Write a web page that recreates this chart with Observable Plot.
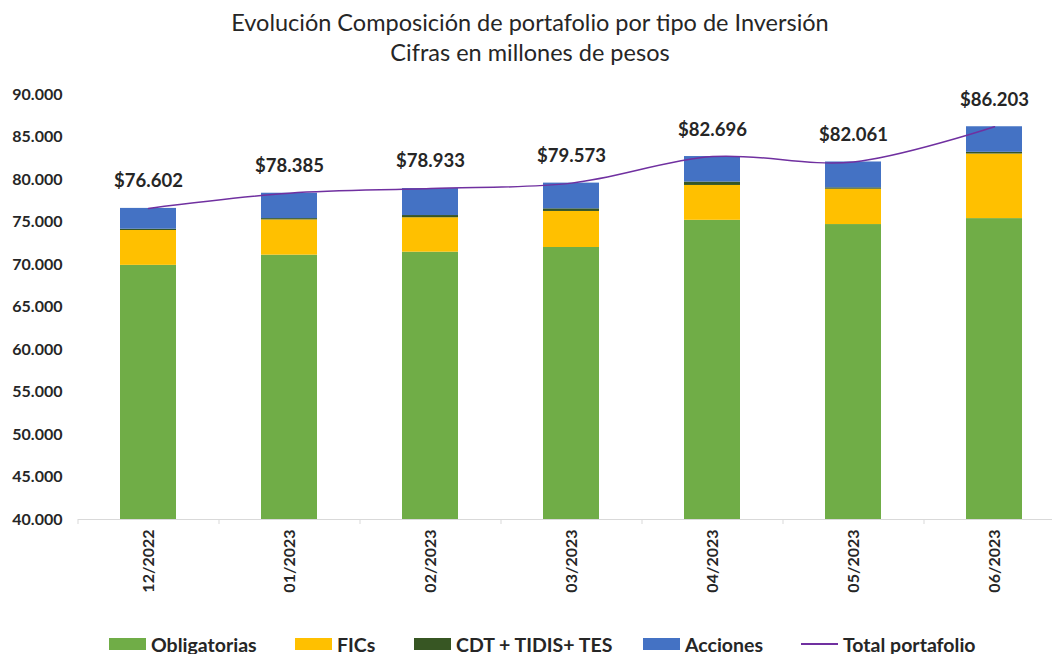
<!DOCTYPE html>
<html>
<head>
<meta charset="utf-8">
<script src="https://cdn.jsdelivr.net/npm/d3@7"></script>
<script src="https://cdn.jsdelivr.net/npm/@observablehq/plot@0.6"></script>
<style>
  html, body { margin: 0; padding: 0; background: #fff; }
  body { width: 1052px; height: 654px; position: relative; overflow: hidden; font-family: Lato, "Open Sans", sans-serif; color: #262626; }
  #title { position: absolute; left: 0; top: 7px; width: 1060px; text-align: center; font-size: 23.5px; line-height: 30px; color: #262626; }
  #chart { position: absolute; left: 0; top: 76px; }
  #legend { position: absolute; left: 0; top: 633px; width: 1052px; height: 22px; font-size: 19.5px; font-weight: bold; color: #262626; }
  .item { position: absolute; top: 0; display: flex; align-items: center; gap: 5px; height: 22px; white-space: nowrap; }
  .sw { width: 37px; height: 12px; }
  .ln { width: 37px; height: 2px; }
</style>
</head>
<body>
<div id="title">Evolución Composición de portafolio por tipo de Inversión<br>Cifras en millones de pesos</div>
<div id="chart"></div>
<div id="legend"></div>
<script>
const categories = ["12/2022", "01/2023", "02/2023", "03/2023", "04/2023", "05/2023", "06/2023"];
const seriesNames = ["Obligatorias", "FICs", "CDT + TIDIS+ TES", "Acciones"];
const seriesColors = ["#70AD47", "#FFC000", "#375623", "#4472C4"];
const obligatorias = [69900, 71100, 71450, 72000, 75200, 74700, 75400];
const fics = [4100, 4150, 4050, 4240, 4100, 4160, 7600];
const cdtTidisTes = [150, 150, 260, 310, 400, 160, 200];
const acciones = [2450, 2985, 3175, 3025, 3000, 3040, 3005];
const totalPortafolio = [76602, 78385, 78933, 79573, 82696, 82061, 86203];
const totalName = "Total portafolio";
const totalColor = "#7030A0";
const yTicks = [40000, 45000, 50000, 55000, 60000, 65000, 70000, 75000, 80000, 85000, 90000];

const locale = d3.formatLocale({decimal: ",", thousands: ".", grouping: [3], currency: ["$", ""]});
const fmtNum = locale.format(",");
const fmtMoney = locale.format("$,");

const seriesValues = [obligatorias, fics, cdtTidisTes, acciones];
const rows = categories.flatMap((c, i) => seriesNames.map((s, j) => ({cat: c, serie: s, value: seriesValues[j][i]})));
const totals = categories.map((c, i) => ({cat: c, total: totalPortafolio[i]}));

const plot = Plot.plot({
  width: 1052,
  height: 545,
  marginLeft: 78,
  marginRight: 0,
  marginTop: 18,
  marginBottom: 102,
  style: {fontFamily: "Lato, 'Open Sans', sans-serif", color: "#262626", background: "#fff"},
  x: {domain: categories, range: [78, 1065], paddingInner: 0.6, paddingOuter: 0.3, axis: null, label: null},
  y: {domain: [40000, 90000], axis: null, label: null},
  color: {domain: seriesNames, range: seriesColors},
  marks: [
    Plot.barY(rows, {x: "cat", y: "value", fill: "serie", order: seriesNames, clip: true}),
    Plot.ruleY([40000], {stroke: "#d9d9d9", strokeWidth: 1}),
    Plot.axisX({ticks: categories.slice(0, -1), tickSize: 5, tickFormat: () => "", label: null, dx: 70.5, stroke: "#d9d9d9"}),
    Plot.axisX({ticks: [categories[0]], tickSize: 5, tickFormat: () => "", label: null, dx: -70.5, stroke: "#d9d9d9"}),
    Plot.axisX({tickRotate: -90, tickSize: 0, tickPadding: 10, label: null, fontWeight: "bold", fontSize: 16, fill: "#262626"}),
    Plot.axisY({ticks: yTicks, tickFormat: fmtNum, tickSize: 0, tickPadding: 16, label: null, fontWeight: "bold", fontSize: 16, fill: "#262626"}),
    Plot.line(totals, {x: "cat", y: "total", stroke: totalColor, strokeWidth: 1.5, curve: "catmull-rom"}),
    Plot.text(totals, {x: "cat", y: "total", text: d => fmtMoney(d.total), dy: -27, fontWeight: "bold", fontSize: 18.5, fill: "#262626"})
  ]
});
document.getElementById("chart").appendChild(plot);

const legend = document.getElementById("legend");
const legendLefts = [109, 295, 414, 643, 801];
seriesNames.forEach((s, i) => {
  const it = document.createElement("div");
  it.className = "item";
  it.style.left = legendLefts[i] + "px";
  it.innerHTML = `<span class="sw" style="background:${seriesColors[i]}"></span><span>${s}</span>`;
  legend.appendChild(it);
});
const lt = document.createElement("div");
lt.className = "item";
lt.style.left = legendLefts[4] + "px";
lt.innerHTML = `<span class="ln" style="background:${totalColor}"></span><span>${totalName}</span>`;
legend.appendChild(lt);
</script>
</body>
</html>
